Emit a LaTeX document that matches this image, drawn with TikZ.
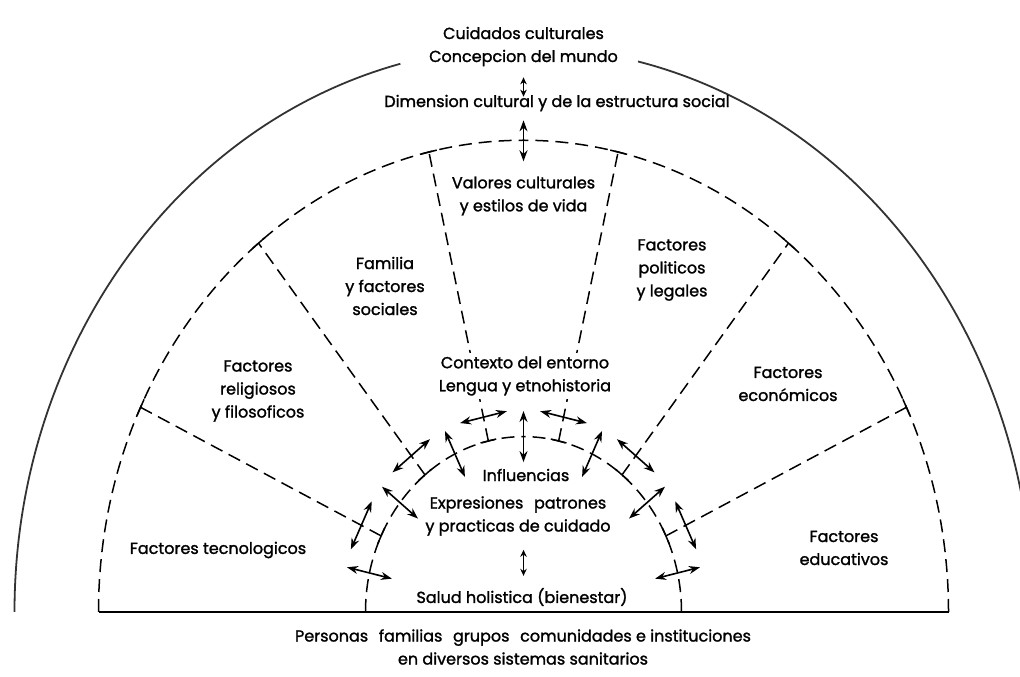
\documentclass[tikz,border=0pt]{standalone}
\usepackage{fontspec}
\setmainfont{Poppins}[UprightFeatures={FakeBold=1.5}]
\usetikzlibrary{positioning, arrows.meta}

\begin{document}
\begin{tikzpicture}[x=1pt, y=1pt, >={Stealth[length=11pt, width=8pt]},
    lbl/.style={font=\fontsize{16}{23}\selectfont, align=center, inner sep=1pt},
    mask/.style={lbl, fill=white, inner sep=3pt},
    rim/.style={line width=1.8pt, black!80},
    dashline/.style={line width=1.5pt, dash pattern=on 13pt off 7pt},
    tick/.style={line width=1.5pt},
    arr/.style={<->, line width=1.6pt},
    arrshort/.style={arr, >={Stealth[length=7pt, width=6.5pt]}}]

\clip (0,0) rectangle (1020,677);
\coordinate (o) at (523.5,65);

% rings, drawn as circles squeezed into ellipses
\begin{scope}[shift={(o)}, yscale=1.11]
  \draw[rim] (180:509) arc[start angle=180, end angle=104, radius=509];
  \draw[rim] (0:509) arc[start angle=0, end angle=77, radius=509];
  \draw[dashline] (180:425) arc[start angle=180, end angle=90, radius=425];
  \draw[dashline] (0:425) arc[start angle=0, end angle=90, radius=425];
  \draw[dashline] (180:158) arc[start angle=180, end angle=90, radius=158];
  \draw[dashline] (0:158) arc[start angle=0, end angle=90, radius=158];
  \draw[line width=1.8pt] (180:425) -- (0:425);
  % sector dividers, their end bars and the cross arrows
  \foreach \k in {1,...,6} {
    \pgfmathsetmacro\ang{\k*180/7}
    \draw[dashline] (\ang:158) -- (\ang:425);
    \draw[tick] (\ang:158) ++(\ang+90:8) -- ++(\ang-90:16);
    \draw[tick] (\ang:425) ++(\ang+90:8) -- ++(\ang-90:16);
    \path (\ang:180) ++(\ang+90:24) coordinate (d\k a) ++(\ang-90:48) coordinate (d\k b);
    \draw[arr] (d\k a) -- (d\k b);
  }
  % one radial arrow per sector
  \foreach \k in {0,...,6} {
    \pgfmathsetmacro\ang{(\k+0.5)*180/7}
    \path (\ang:135) coordinate (s\k a) (\ang:181) coordinate (s\k b);
    \draw[arr] (s\k a) -- (s\k b);
  }
\end{scope}

\node[lbl] (cc) at (523.5,644) {Cuidados culturales};
\node[lbl, below of=cc, node distance=25pt] (cm) {Concepcion del mundo};
\node[lbl] (dc) at (557,574) {Dimension cultural y de la estructura social};
\node[lbl] (val) at (523.5,481) {Valores culturales\\y estilos de vida};
\node[lbl] (fam) at (385,391) {Familia\\y factores\\sociales};
\node[lbl] (rel) at (258,286) {Factores\\religiosos\\y filosoficos};
\node[lbl] (tec) at (218,127) {Factores tecnologicos};
\node[mask] (ctx) at (525,301) {Contexto del entorno\\Lengua y etnohistoria};
\node[lbl] (pol) at (672,407) {Factores\\politicos\\y legales};
\node[lbl] (eco) at (788,293) {Factores\\económicos};
\node[lbl] (edu) at (844,129) {Factores\\educativos};
\node[lbl] (inf) at (526,202) {Influencias};
\node[lbl] (exp) at (518,161) {Expresiones\hspace{0.4em} patrones\\y practicas de cuidado};
\node[lbl] (sal) at (522,80) {Salud holistica (bienestar)};
\node[lbl] (per) at (523,30) {Personas\hspace{0.4em} familias\hspace{0.4em} grupos\hspace{0.4em} comunidades e instituciones\\en diversos sistemas sanitarios};

\draw[arrshort, shorten <=10pt, shorten >=-3pt] (cm.south) -- (cm.south |- dc.north);
\draw[arr, shorten <=8pt, shorten >=14pt] (dc.south -| o) -- (val.north);
\draw[arrshort, shorten <=13pt, shorten >=11pt] (exp.south -| o) -- (sal.north -| o);
\end{tikzpicture}
\end{document}
